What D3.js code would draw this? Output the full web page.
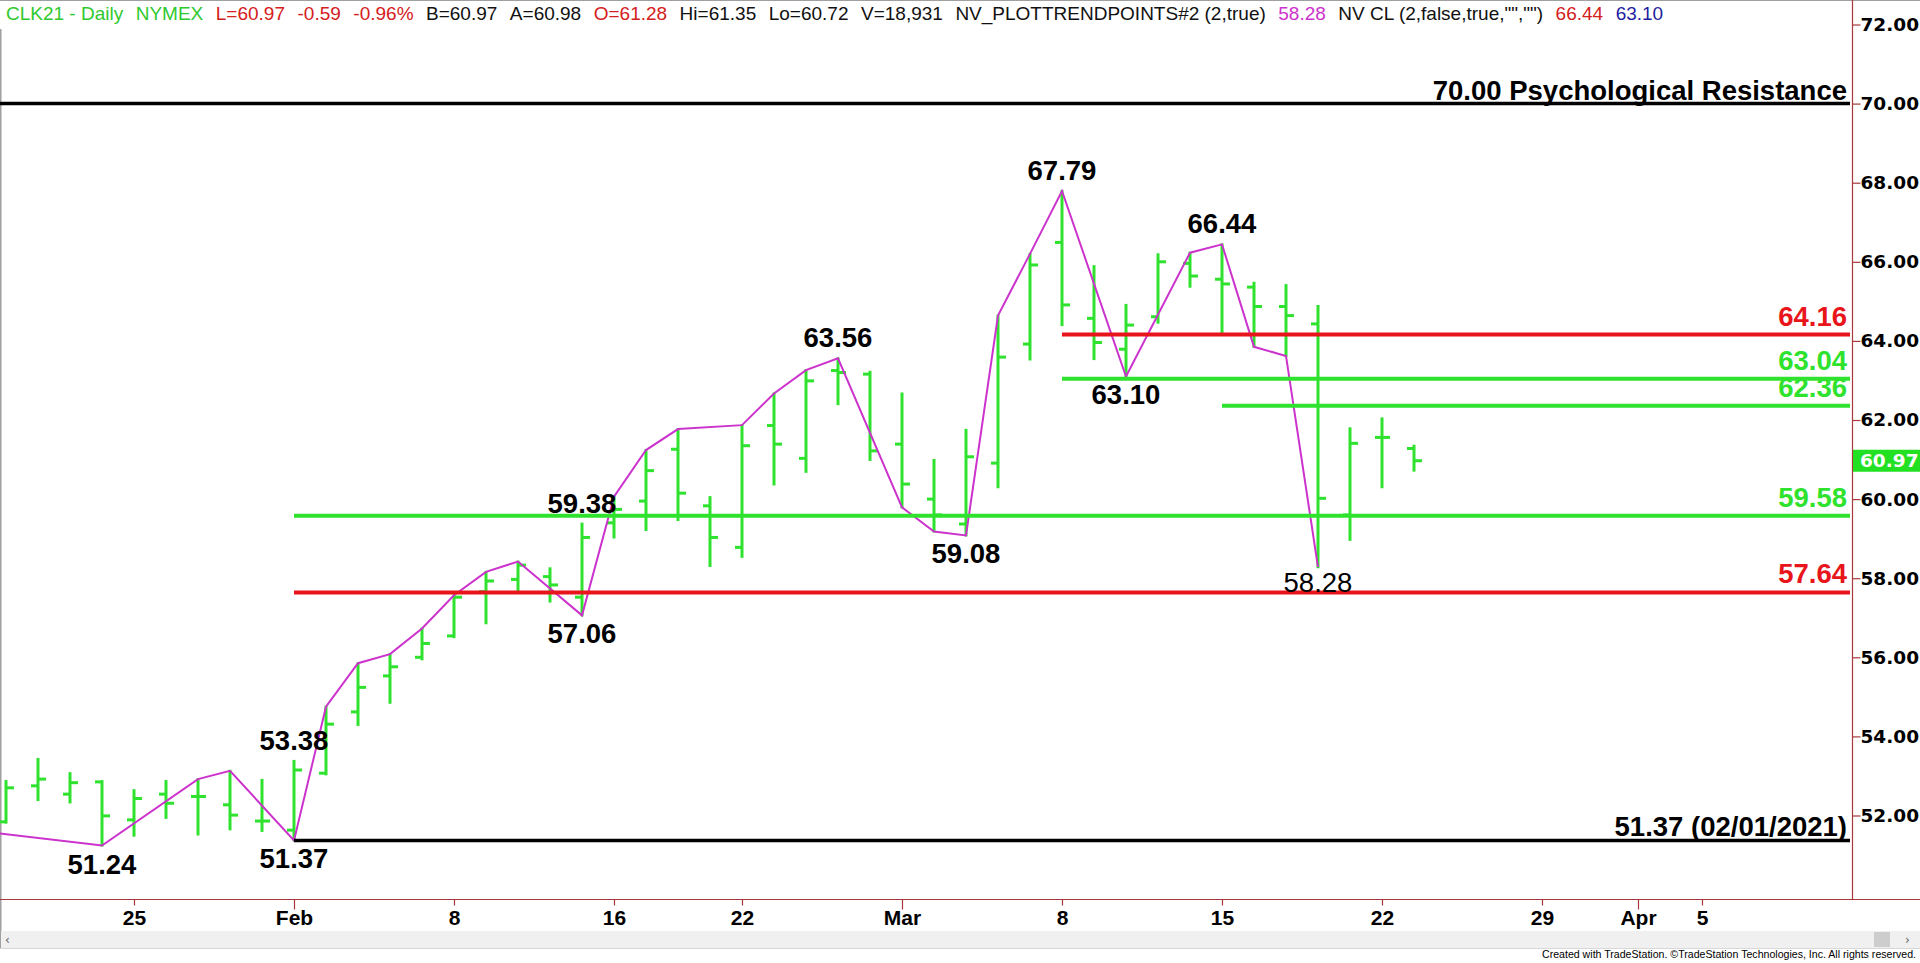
<!DOCTYPE html>
<html><head><meta charset="utf-8">
<script src="https://cdn.jsdelivr.net/npm/d3@7"></script>
<style>
html,body{margin:0;padding:0;background:#fff;overflow:hidden}
svg{display:block}
</style></head><body>
<svg id="chart" width="1920" height="963"></svg>
<script>
// ---------------- DATA ----------------
const priorDates = ["2021-01-15"];
const barDates = ["2021-01-19","2021-01-20","2021-01-21","2021-01-22","2021-01-25","2021-01-26","2021-01-27","2021-01-28","2021-01-29",
  "2021-02-01","2021-02-02","2021-02-03","2021-02-04","2021-02-05","2021-02-08","2021-02-09","2021-02-10","2021-02-11","2021-02-12",
  "2021-02-16","2021-02-17","2021-02-18","2021-02-19","2021-02-22","2021-02-23","2021-02-24","2021-02-25","2021-02-26",
  "2021-03-01","2021-03-02","2021-03-03","2021-03-04","2021-03-05","2021-03-08","2021-03-09","2021-03-10","2021-03-11","2021-03-12",
  "2021-03-15","2021-03-16","2021-03-17","2021-03-18","2021-03-19","2021-03-22","2021-03-23"];
const futureDates = ["2021-03-24","2021-03-25","2021-03-26","2021-03-29","2021-03-30","2021-03-31","2021-04-01","2021-04-02",
  "2021-04-05","2021-04-06","2021-04-07","2021-04-08","2021-04-09"];

const opens  = [51.84,52.75,52.54,52.85,51.89,52.54,52.48,52.27,51.86, 51.63,53.07,54.62,55.53,56.00,56.54,57.66,57.97,58.04,57.52,
  59.40,59.95,61.26,59.83,58.78,61.86,61.03,63.25,63.16, 61.39,60.00,59.37,60.91,63.92,66.49,64.57,63.79,64.61,65.96,
  65.56,65.36,64.87,64.43,59.60,61.56,61.28];
const highs  = [52.87,53.43,53.07,52.87,52.64,52.87,52.92,53.13,52.90, 53.38,54.75,55.85,56.08,56.73,57.57,58.16,58.42,58.25,59.38,
  60.06,61.24,61.77,60.05,61.87,62.67,63.26,63.56,63.22, 62.67,60.99,61.75,64.64,66.20,67.79,65.89,64.91,66.19,66.23,
  66.44,65.47,65.41,64.88,61.79,62.04,61.35];
const lows   = [51.82,52.39,52.33,51.24,51.49,51.94,51.52,51.65,51.61, 51.37,53.04,54.29,54.85,55.95,56.51,56.86,57.66,57.41,57.06,
  59.03,59.22,59.47,58.31,58.54,60.37,60.69,62.40,60.99, 59.79,59.18,59.08,60.30,63.53,64.40,63.54,63.10,64.46,65.37,
  64.21,63.85,63.62,58.28,58.97,60.30,60.72];
const closes = [52.70,52.92,52.83,51.99,52.43,52.31,52.48,52.01,51.86, 53.15,54.31,55.24,55.76,56.35,57.52,57.93,58.33,57.83,59.03,
  59.74,60.72,60.15,59.03,61.35,61.39,62.99,63.20,61.22, 60.38,59.60,61.07,63.59,65.92,64.91,63.96,64.40,66.00,65.64,
  65.44,64.87,64.64,60.02,61.41,61.56,60.97];

const swingDates = ["2021-01-15","2021-01-22","2021-01-27","2021-01-28","2021-02-01","2021-02-02","2021-02-03","2021-02-04","2021-02-05",
  "2021-02-08","2021-02-09","2021-02-10","2021-02-12","2021-02-16","2021-02-17","2021-02-18","2021-02-22","2021-02-23","2021-02-24",
  "2021-02-25","2021-03-01","2021-03-02","2021-03-03","2021-03-04","2021-03-05","2021-03-08","2021-03-10","2021-03-12","2021-03-15",
  "2021-03-16","2021-03-17","2021-03-18"];
const swingValues = [51.62,51.24,52.92,53.13,51.37,54.75,55.85,56.08,56.73,
  57.57,58.16,58.42,57.06,60.06,61.24,61.77,61.87,62.67,63.26,
  63.56,59.79,59.18,59.08,64.64,66.20,67.79,63.10,66.23,66.44,
  63.85,63.62,58.28];

const pivotDates  = ["2021-01-22","2021-02-01","2021-02-01","2021-02-12","2021-02-12","2021-02-25","2021-03-03","2021-03-08","2021-03-10","2021-03-15","2021-03-18"];
const pivotValues = [51.24,51.37,53.38,57.06,59.38,63.56,59.08,67.79,63.10,66.44,58.28];
const pivotKinds  = ["low","low","high","low","high","high","low","high","low","high","live"];

const levelValues     = [70.00, 64.16, 63.04, 62.36, 59.58, 57.64, 51.37];
const levelStartDates = ["2021-01-15","2021-03-08","2021-03-08","2021-03-15","2021-02-01","2021-02-01","2021-02-01"];
const levelKinds      = ["key","resistance","support","support","support","resistance","key"];
const levelLabels     = ["70.00 Psychological Resistance","64.16","63.04","62.36","59.58","57.64","51.37 (02/01/2021)"];

const yTickValues = [52,54,56,58,60,62,64,66,68,70,72];
const xTickDates  = ["2021-01-25","2021-02-01","2021-02-08","2021-02-16","2021-02-22","2021-03-01","2021-03-08","2021-03-15","2021-03-22","2021-03-29","2021-04-01","2021-04-05"];
const xTickLabels = ["25","Feb","8","16","22","Mar","8","15","22","29","Apr","5"];
const monthTicks  = ["2021-02-01","2021-03-01","2021-04-01"];
const lastPrice = 60.97;

const headerTexts = ["CLK21 - Daily","NYMEX","L=60.97","-0.59","-0.96%","B=60.97","A=60.98","O=61.28","Hi=61.35","Lo=60.72","V=18,931",
  "NV_PLOTTRENDPOINTS#2 (2,true)","58.28","NV CL (2,false,true,\"\",\"\")","66.44","63.10"];
const headerTones = ["symbol","symbol","down","down","down","plain","plain","down","plain","plain","plain","plain","swing","plain","down","blue"];
const creditText = "Created with TradeStation. \u00A9TradeStation Technologies, Inc. All rights reserved.";

// ---------------- DRAWING ----------------
const GREEN = "#2ee22e", RED = "#e8151a", AXIS = "#a8383c", MAGENTA = "#cc33cc";
const toneColor = {symbol:"#2fc92f", down:"#d42020", plain:"#111", swing:"#cc33cc", blue:"#1f1fa0"};
const levelColor = {key:"#000", resistance: RED, support: GREEN};
const plotRight = 1852, plotBottom = 899;

const svg = d3.select("#chart");
const axisDates = priorDates.concat(barDates, futureDates);
const x = d3.scalePoint().domain(axisDates).range([-26, -26 + 32 * (axisDates.length - 1)]);
const y = d3.scaleLinear().domain([52, 72]).range([815.5, 24.5]);

svg.append("defs").append("clipPath").attr("id","plotclip")
  .append("rect").attr("x",0).attr("y",0).attr("width",plotRight).attr("height",plotBottom);

// borders
svg.append("line").attr("x1",0).attr("x2",1920).attr("y1",0.5).attr("y2",0.5).attr("stroke","#a0a0a0").attr("stroke-width",1);
svg.append("line").attr("x1",0.75).attr("x2",0.75).attr("y1",29).attr("y2",948).attr("stroke","#a0a0a0").attr("stroke-width",1.5);

// header (laid out left to right)
const header = svg.append("g").attr("font-family","'Liberation Sans', Arial, sans-serif").attr("font-size",19);
let hx = 6;
headerTexts.forEach((t,i)=>{
  const node = header.append("text").attr("x",hx).attr("y",20)
    .attr("fill",toneColor[headerTones[i]]).style("white-space","pre").text(t).node();
  hx += node.getComputedTextLength() + 12.5;
});

const plot = svg.append("g").attr("clip-path","url(#plotclip)");

// OHLC bars
const bars = barDates.map((d,i)=>({date:d, o:opens[i], h:highs[i], l:lows[i], c:closes[i]}));
const bg = plot.append("g").attr("stroke",GREEN).attr("stroke-width",3);
bg.selectAll("line.hl").data(bars).join("line").attr("class","hl")
  .attr("x1",d=>x(d.date)).attr("x2",d=>x(d.date))
  .attr("y1",d=>y(d.h)-1).attr("y2",d=>y(d.l)+1);
bg.selectAll("line.op").data(bars).join("line").attr("class","op")
  .attr("x1",d=>x(d.date)-7).attr("x2",d=>x(d.date))
  .attr("y1",d=>y(d.o)).attr("y2",d=>y(d.o));
bg.selectAll("line.cl").data(bars).join("line").attr("class","cl")
  .attr("x1",d=>x(d.date)).attr("x2",d=>x(d.date)+8)
  .attr("y1",d=>y(d.c)).attr("y2",d=>y(d.c));

// swing line
const swings = swingDates.map((d,i)=>({date:d, v:swingValues[i]}));
plot.append("path").datum(swings)
  .attr("fill","none").attr("stroke",MAGENTA).attr("stroke-width",2)
  .attr("d", d3.line().x(d=>x(d.date)).y(d=>y(d.v)));

// levels
const levels = levelValues.map((v,i)=>({v, start:levelStartDates[i], kind:levelKinds[i], label:levelLabels[i]}));
plot.append("g").selectAll("line").data(levels).join("line")
  .attr("x1",d=>Math.max(0,x(d.start))).attr("x2",plotRight-2)
  .attr("y1",d=>y(d.v)).attr("y2",d=>y(d.v))
  .attr("stroke",d=>levelColor[d.kind]).attr("stroke-width",d=>d.kind==="key"?3.5:4);
svg.append("g").selectAll("text").data(levels).join("text")
  .attr("x",1847).attr("y",d=>y(d.v) - (d.kind==="key"?4:9))
  .attr("text-anchor","end")
  .attr("font-family","'Liberation Sans', Arial, sans-serif").attr("font-weight","bold").attr("font-size",27.5)
  .attr("fill",d=>levelColor[d.kind])
  .text(d=>d.label);

// pivot labels
const pivots = pivotDates.map((d,i)=>({date:d, v:pivotValues[i], kind:pivotKinds[i]}));
svg.append("g").selectAll("text").data(pivots).join("text")
  .attr("x",d=>x(d.date)).attr("y",d=>d.kind==="high" ? y(d.v)-11 : y(d.v)+(d.kind==="live"?25:28))
  .attr("text-anchor","middle")
  .attr("font-family","'Liberation Sans', Arial, sans-serif").attr("font-size",27.5)
  .attr("font-weight",d=>d.kind==="live"?"normal":"bold")
  .attr("fill","#000")
  .text(d=>d.v.toFixed(2));

// y axis
svg.append("line").attr("x1",plotRight+0.5).attr("x2",plotRight+0.5).attr("y1",0).attr("y2",plotBottom)
  .attr("stroke",AXIS).attr("stroke-width",1.2);
const yAxis = svg.append("g").attr("transform",`translate(${plotRight+0.5},0)`)
  .call(d3.axisRight(y).tickValues(yTickValues).tickFormat(d3.format(".2f")).tickSize(8).tickPadding(0));
yAxis.select(".domain").remove();
yAxis.selectAll("line").attr("stroke",AXIS).attr("stroke-width",1.2);
yAxis.selectAll("text").attr("font-family","'DejaVu Sans', Verdana, sans-serif").attr("font-weight","bold")
  .attr("font-size",18.5).attr("fill","#000");

// last price marker
const lp = svg.append("g");
lp.append("rect").attr("x",plotRight+1).attr("y",y(lastPrice)-11).attr("width",1920-plotRight-1).attr("height",22).attr("fill","#22e022");
lp.append("text").attr("x",plotRight+8).attr("y",y(lastPrice)).attr("dy","0.36em")
  .attr("font-family","'DejaVu Sans', Verdana, sans-serif").attr("font-weight","bold").attr("font-size",18.5)
  .attr("fill","#fff").text(lastPrice.toFixed(2));

// x axis
svg.append("line").attr("x1",0).attr("x2",1920).attr("y1",plotBottom+0.5).attr("y2",plotBottom+0.5)
  .attr("stroke",AXIS).attr("stroke-width",1.2);
const xAxis = svg.append("g").attr("transform",`translate(0,${plotBottom+0.5})`)
  .call(d3.axisBottom(x).tickValues(xTickDates).tickFormat((d,i)=>xTickLabels[i]).tickSize(6).tickPadding(5));
xAxis.select(".domain").remove();
xAxis.selectAll("line").attr("stroke",AXIS).attr("stroke-width",1.2)
  .attr("y2",d=>monthTicks.includes(d)?10:6);
xAxis.selectAll("text").attr("font-family","'Liberation Sans', Arial, sans-serif").attr("font-weight","bold")
  .attr("font-size",21).attr("fill","#000");

// scrollbar
const sb = svg.append("g");
sb.append("rect").attr("x",1).attr("y",931).attr("width",1919).attr("height",17).attr("fill","#f0f0f0");
sb.append("line").attr("x1",0).attr("x2",1920).attr("y1",948.5).attr("y2",948.5).attr("stroke","#d8d8d8");
sb.append("rect").attr("x",1874).attr("y",932).attr("width",16).attr("height",15).attr("fill","#cdcdcd");
sb.append("text").attr("x",5).attr("y",944).attr("font-family","'DejaVu Sans', sans-serif").attr("font-size",12).attr("fill","#606060").text("\u2039");
sb.append("text").attr("x",1905).attr("y",944).attr("font-family","'DejaVu Sans', sans-serif").attr("font-size",12).attr("fill","#606060").text("\u203A");

// credit
svg.append("text").attr("x",1916).attr("y",958).attr("text-anchor","end")
  .attr("font-family","'Liberation Sans Narrow', 'Liberation Sans', Arial, sans-serif").attr("font-size",11.5)
  .attr("textLength",374).attr("lengthAdjust","spacingAndGlyphs")
  .attr("fill","#000").text(creditText);
</script>
</body></html>
